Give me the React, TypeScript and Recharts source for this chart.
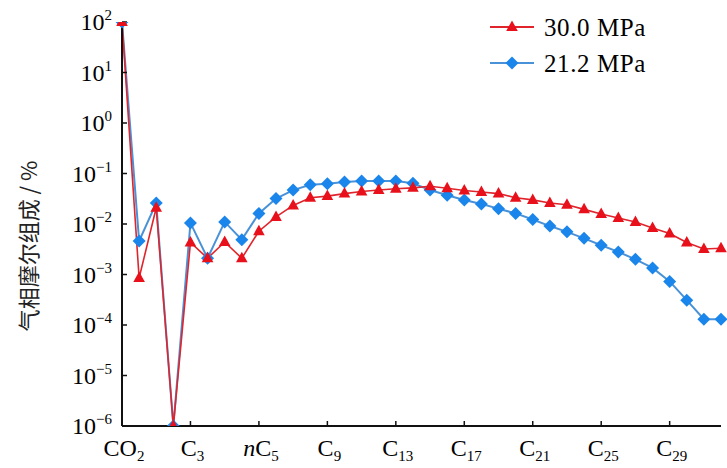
import React from 'react';
import { LineChart, Line, XAxis, YAxis, Legend } from 'recharts';

const categories = [
  'CO2', 'N2', 'C1', 'C2', 'C3', 'iC4', 'nC4', 'iC5', 'nC5', 'C6',
  'C7', 'C8', 'C9', 'C10', 'C11', 'C12', 'C13', 'C14', 'C15', 'C16',
  'C17', 'C18', 'C19', 'C20', 'C21', 'C22', 'C23', 'C24', 'C25', 'C26',
  'C27', 'C28', 'C29', 'C30', 'C31', 'C32+',
];

const p300 = [
  100, 8.5e-4, 0.021, 1e-6, 4.3e-3, 2.1e-3, 4.4e-3, 2.1e-3, 7.2e-3, 0.0138,
  0.0233, 0.033, 0.0357, 0.040, 0.044, 0.047, 0.050, 0.052, 0.056, 0.051,
  0.046, 0.043, 0.040, 0.033, 0.030, 0.026, 0.024, 0.0195, 0.0158, 0.0132,
  0.011, 0.0083, 0.0065, 0.0043, 0.0032, 0.0033,
];

const p212 = [
  100, 4.6e-3, 0.026, 1e-6, 0.0105, 2.1e-3, 0.011, 4.9e-3, 0.0162, 0.032,
  0.047, 0.060, 0.063, 0.068, 0.071, 0.071, 0.071, 0.064, 0.047, 0.037,
  0.030, 0.025, 0.020, 0.0162, 0.0123, 0.0091, 0.0070, 0.0052, 0.0038, 0.0028,
  0.0020, 0.00135, 7.3e-4, 3.1e-4, 1.3e-4, 1.3e-4,
];

const yTicks = [1e-6, 1e-5, 1e-4, 1e-3, 1e-2, 1e-1, 1, 10, 100];

const seriesNames = ['30.0 MPa', '21.2 MPa'];
const yTitle = '气相摩尔组成 / %';

const data = categories.map((name, i) => ({ name, a: p300[i], b: p212[i] }));

const RED = '#e8101a';
const RED_LINE = '#e0242c';
const BLUE = '#1a86ec';
const BLUE_LINE = '#4a92d8';
const SERIF = 'Liberation Serif, DejaVu Serif, serif';

const Triangle = ({ cx, cy, color }: any) => (
  <polygon
    points={`${cx},${cy - 6.5} ${cx - 5.8},${cy + 4} ${cx + 5.8},${cy + 4}`}
    fill={color}
    stroke="none"
  />
);

const Diamond = ({ cx, cy, color }: any) => (
  <polygon
    points={`${cx},${cy - 6.5} ${cx + 6.5},${cy} ${cx},${cy + 6.5} ${cx - 6.5},${cy}`}
    fill={color}
    stroke="none"
  />
);

const XTick = (props: any) => {
  const { x, y, payload } = props;
  const m = String(payload.value).match(/^([a-z]?)([A-Z]+)(.*)$/) || ['', '', String(payload.value), ''];
  return (
    <text x={x + 2} y={y + 26} textAnchor="middle" style={{ fontFamily: SERIF }} fontSize={24} fill="#000">
      {m[1] ? <tspan fontStyle="italic">{m[1]}</tspan> : null}
      <tspan>{m[2]}</tspan>
      <tspan fontSize={15} dy={5}>{m[3]}</tspan>
    </text>
  );
};

const YTick = (props: any) => {
  const { x, y, payload } = props;
  const e = Math.round(Math.log10(payload.value));
  const sup = e < 0 ? `\u2212${-e}` : `${e}`;
  return (
    <text x={x} y={y + 8} textAnchor="end" style={{ fontFamily: SERIF }} fontSize={24} fill="#000">
      <tspan>10</tspan>
      <tspan fontSize={15} dy={-10}>{sup}</tspan>
    </text>
  );
};

const YTitle = () => (
  <text
    x={27}
    y={246}
    transform="rotate(-90 27 246)"
    textAnchor="middle"
    dominantBaseline="central"
    style={{ fontFamily: 'Noto Sans CJK SC, sans-serif' }}
    fontSize={22}
    fill="#222"
  >
    {yTitle}
  </text>
);

const LegendContent = () => {
  const rows = [
    { name: seriesNames[0], color: RED, line: RED_LINE, M: Triangle },
    { name: seriesNames[1], color: BLUE, line: BLUE_LINE, M: Diamond },
  ];
  return (
    <div>
      {rows.map((r) => (
        <div key={r.name} style={{ display: 'flex', alignItems: 'center', height: 36 }}>
          <svg width={48} height={20} style={{ display: 'block' }}>
            <line x1={2} y1={10} x2={46} y2={10} stroke={r.line} strokeWidth={2} />
            <r.M cx={24} cy={10} color={r.color} />
          </svg>
          <span
            style={{
              fontFamily: SERIF,
              fontSize: 25,
              color: '#000',
              marginLeft: 8,
              letterSpacing: 0.6,
              lineHeight: '25px',
            }}
          >
            {r.name}
          </span>
        </div>
      ))}
    </div>
  );
};

export default function App() {
  return (
    <div style={{ position: 'absolute', left: 0, top: 0, background: '#fff' }}>
      <LineChart width={727} height={468} data={data} margin={{ top: 22, right: 6, left: 0, bottom: 0 }}>
        <XAxis
          dataKey="name"
          interval={3}
          height={42}
          tick={<XTick />}
          tickSize={-5}
          tickMargin={9}
          axisLine={{ stroke: '#111', strokeWidth: 2 }}
          tickLine={{ stroke: '#111', strokeWidth: 1.5 }}
        />
        <YAxis
          scale="log"
          domain={[1e-6, 100]}
          ticks={yTicks}
          width={122}
          tick={<YTick />}
          tickSize={-5}
          tickMargin={15}
          axisLine={{ stroke: '#111', strokeWidth: 2 }}
          tickLine={{ stroke: '#111', strokeWidth: 1.5 }}
          label={<YTitle />}
          allowDataOverflow
        />
        <Legend
          layout="vertical"
          align="center"
          verticalAlign="middle"
          content={<LegendContent />}
          wrapperStyle={{ left: 488, top: 9, width: 235 }}
        />
        <Line
          type="linear"
          dataKey="b"
          name={seriesNames[1]}
          stroke={BLUE_LINE}
          strokeWidth={2}
          isAnimationActive={false}
          dot={(p: any) => <Diamond key={`b${p.index}`} cx={p.cx} cy={p.cy} color={BLUE} />}
          activeDot={false}
        />
        <Line
          type="linear"
          dataKey="a"
          name={seriesNames[0]}
          stroke={RED_LINE}
          strokeWidth={1.6}
          isAnimationActive={false}
          dot={(p: any) => <Triangle key={`a${p.index}`} cx={p.cx} cy={p.cy} color={RED} />}
          activeDot={false}
        />
      </LineChart>
    </div>
  );
}
